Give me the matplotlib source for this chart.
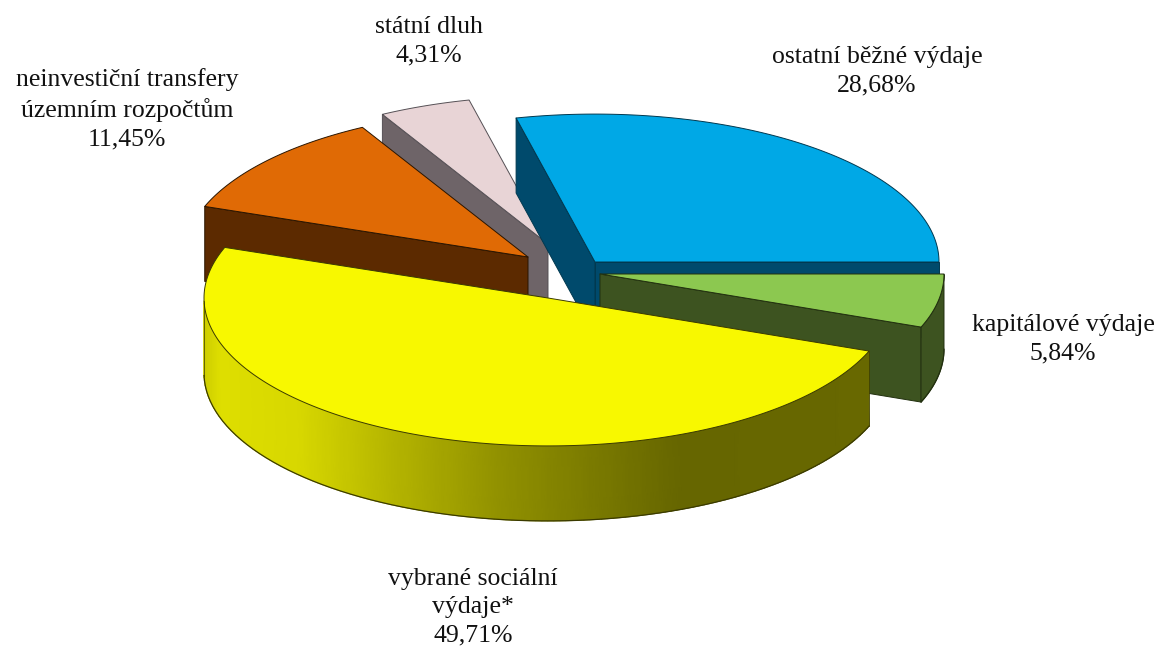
import numpy as np
import matplotlib
matplotlib.use("Agg")
import matplotlib.pyplot as plt
from matplotlib.colors import LinearSegmentedColormap

# --- data ---
labels = ["ostatní běžné výdaje\n28,68%", "státní dluh\n4,31%",
          "neinvestiční transfery\núzemním rozpočtům\n11,45%",
          "vybrané sociální\nvýdaje*\n49,71%", "kapitálové výdaje\n5,84%"]
values = [28.68, 4.31, 11.45, 49.71, 5.84]

# --- style / layout ---
top_colors = ["#00a8e6", "#e8d4d6", "#e06a05", "#f8f800", "#8cc850"]
side_colors = ["#004a6c", "#6e6468", "#5c2a00", None, "#3d5320"]
edge_colors = ["#00384f", "#555055", "#2a1500", "#3a3a00", "#22300f"]
explode_dx = [29, -18, -38, -18, 34]
explode_dy = [-12, -30, -17, 24, 0]
draw_order = [1, 2, 0, 4, 3]
label_xy = [(877, 71), (429, 41), (127, 109), (473, 607), (1063, 339)]
CX, CY, RX, TILT, DEPTH = 566, 274, 344, 0.43, 75
grad_x = [204, 220, 300, 400, 500, 570, 680, 880]
grad_v = [205, 222, 215, 178, 145, 128, 102, 104]

plt.rcParams['font.family'] = ['Liberation Serif', 'DejaVu Serif']
fig = plt.figure(figsize=(11.57, 6.48), dpi=100)
ax = fig.add_axes([0, 0, 1, 1])
ax.set_xlim(0, 1157)
ax.set_ylim(648, 0)
ax.axis("off")

rim_cmap = LinearSegmentedColormap.from_list("rim", ["#000000", "#ffff00"])
sweeps = np.array(values) / sum(values) * 360
starts = np.concatenate([[0], np.cumsum(sweeps)[:-1]])


def pts(ox, oy, a):
    a = np.radians(a)
    return ox + RX * np.cos(a), oy - RX * TILT * np.sin(a)


def cut_face(ox, oy, ang, fc, ec):
    ex, ey = pts(ox, oy, ang)
    ax.fill([ox, ex, ex, ox], [oy, ey, ey + DEPTH, oy + DEPTH],
            fc=fc, ec=ec, lw=0.7, joinstyle="round")


for i in draw_order:
    a0, a1 = starts[i], starts[i] + sweeps[i]
    ox = CX + explode_dx[i]
    oy = CY + explode_dy[i]
    arc = np.linspace(a0, a1, 180)
    x, y = pts(ox, oy, arc)
    ec = edge_colors[i]
    # a flat cut is seen only when shifting it downwards leaves the wedge
    if np.cos(np.radians(a0)) > 0 and side_colors[i]:
        cut_face(ox, oy, a0, side_colors[i], ec)
    if np.cos(np.radians(a1)) < 0 and side_colors[i]:
        cut_face(ox, oy, a1, side_colors[i], ec)
    # outer rim, only where it faces the viewer
    front = arc[np.sin(np.radians(arc)) < 0]
    if len(front) > 1:
        fx, fy = pts(ox, oy, front)
        if side_colors[i] is None:
            shade = np.interp(fx, grad_x, grad_v)
            ax.pcolormesh(np.vstack([fx, fx]), np.vstack([fy, fy + DEPTH]),
                          np.vstack([shade, shade]), cmap=rim_cmap, vmin=0,
                          vmax=255, shading="gouraud")
            ax.plot([fx[0], fx[0]], [fy[0], fy[0] + DEPTH], color=ec, lw=0.5)
            ax.plot([fx[-1], fx[-1]], [fy[-1], fy[-1] + DEPTH], color=ec, lw=0.5)
        else:
            ax.fill(np.r_[fx, fx[::-1]], np.r_[fy, fy[::-1] + DEPTH],
                    fc=side_colors[i], ec=ec, lw=0.7)
        ax.plot(fx, fy + DEPTH, color=ec, lw=0.9)
    # top surface
    ax.fill(np.r_[ox, x], np.r_[oy, y], fc=top_colors[i], ec=ec, lw=0.7,
            joinstyle="round")

for text, (lx, ly) in zip(labels, label_xy):
    ax.text(lx, ly, text, ha="center", va="center", fontsize=18.5,
            color="#111111", linespacing=1.38)

fig.savefig("out.png", dpi=100, facecolor="white")
